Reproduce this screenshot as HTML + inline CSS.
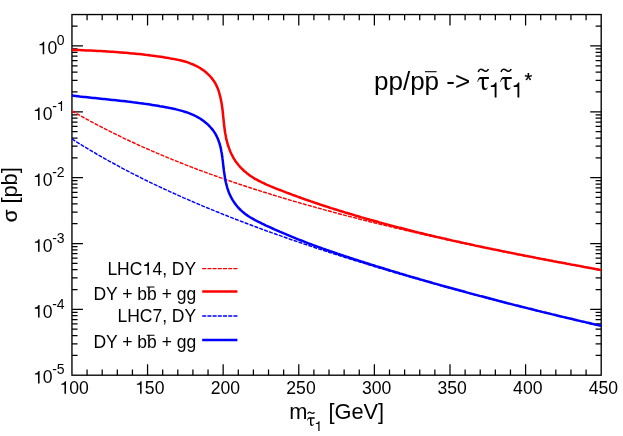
<!DOCTYPE html>
<html><head><meta charset="utf-8">
<style>
html,body{margin:0;padding:0;background:#fff;}
svg{display:block;will-change:transform;}
text{font-family:"Liberation Sans",sans-serif;fill:#000;}
.t{font-size:17.6px;}
.s{font-size:14px;}
.l{font-size:17.5px;}
.a{font-size:21.8px;}
.ti{font-size:26px;}
.ser{font-family:"Liberation Serif",serif;}
</style></head><body>
<svg width="623" height="436" viewBox="0 0 623 436">
<rect width="623" height="436" fill="#fff"/>
<defs><clipPath id="cp"><rect x="71.95" y="14.55" width="529.85" height="360.65"/></clipPath></defs>
<!-- frame -->
<rect x="71.95" y="14.55" width="529.25" height="360.65" fill="none" stroke="#000" stroke-width="1.35"/>
<path d="M87.07,375.2 v-5.6 M87.07,14.55 v5.6 M102.19,375.2 v-5.6 M102.19,14.55 v5.6 M117.31,375.2 v-5.6 M117.31,14.55 v5.6 M132.44,375.2 v-5.6 M132.44,14.55 v5.6 M147.56,375.2 v-11.0 M147.56,14.55 v11.0 M162.68,375.2 v-5.6 M162.68,14.55 v5.6 M177.80,375.2 v-5.6 M177.80,14.55 v5.6 M192.92,375.2 v-5.6 M192.92,14.55 v5.6 M208.04,375.2 v-5.6 M208.04,14.55 v5.6 M223.16,375.2 v-11.0 M223.16,14.55 v11.0 M238.29,375.2 v-5.6 M238.29,14.55 v5.6 M253.41,375.2 v-5.6 M253.41,14.55 v5.6 M268.53,375.2 v-5.6 M268.53,14.55 v5.6 M283.65,375.2 v-5.6 M283.65,14.55 v5.6 M298.77,375.2 v-11.0 M298.77,14.55 v11.0 M313.89,375.2 v-5.6 M313.89,14.55 v5.6 M329.01,375.2 v-5.6 M329.01,14.55 v5.6 M344.14,375.2 v-5.6 M344.14,14.55 v5.6 M359.26,375.2 v-5.6 M359.26,14.55 v5.6 M374.38,375.2 v-11.0 M374.38,14.55 v11.0 M389.50,375.2 v-5.6 M389.50,14.55 v5.6 M404.62,375.2 v-5.6 M404.62,14.55 v5.6 M419.74,375.2 v-5.6 M419.74,14.55 v5.6 M434.86,375.2 v-5.6 M434.86,14.55 v5.6 M449.99,375.2 v-11.0 M449.99,14.55 v11.0 M465.11,375.2 v-5.6 M465.11,14.55 v5.6 M480.23,375.2 v-5.6 M480.23,14.55 v5.6 M495.35,375.2 v-5.6 M495.35,14.55 v5.6 M510.47,375.2 v-5.6 M510.47,14.55 v5.6 M525.59,375.2 v-11.0 M525.59,14.55 v11.0 M540.71,375.2 v-5.6 M540.71,14.55 v5.6 M555.84,375.2 v-5.6 M555.84,14.55 v5.6 M570.96,375.2 v-5.6 M570.96,14.55 v5.6 M586.08,375.2 v-5.6 M586.08,14.55 v5.6 M71.95,355.38 h5.6 M601.2,355.38 h-5.6 M71.95,343.78 h5.6 M601.2,343.78 h-5.6 M71.95,335.56 h5.6 M601.2,335.56 h-5.6 M71.95,329.18 h5.6 M601.2,329.18 h-5.6 M71.95,323.96 h5.6 M601.2,323.96 h-5.6 M71.95,319.55 h5.6 M601.2,319.55 h-5.6 M71.95,315.73 h5.6 M601.2,315.73 h-5.6 M71.95,312.37 h5.6 M601.2,312.37 h-5.6 M71.95,309.35 h11.0 M601.2,309.35 h-11.0 M71.95,289.53 h5.6 M601.2,289.53 h-5.6 M71.95,277.94 h5.6 M601.2,277.94 h-5.6 M71.95,269.71 h5.6 M601.2,269.71 h-5.6 M71.95,263.33 h5.6 M601.2,263.33 h-5.6 M71.95,258.11 h5.6 M601.2,258.11 h-5.6 M71.95,253.71 h5.6 M601.2,253.71 h-5.6 M71.95,249.89 h5.6 M601.2,249.89 h-5.6 M71.95,246.52 h5.6 M601.2,246.52 h-5.6 M71.95,243.51 h11.0 M601.2,243.51 h-11.0 M71.95,223.68 h5.6 M601.2,223.68 h-5.6 M71.95,212.09 h5.6 M601.2,212.09 h-5.6 M71.95,203.86 h5.6 M601.2,203.86 h-5.6 M71.95,197.48 h5.6 M601.2,197.48 h-5.6 M71.95,192.27 h5.6 M601.2,192.27 h-5.6 M71.95,187.86 h5.6 M601.2,187.86 h-5.6 M71.95,184.04 h5.6 M601.2,184.04 h-5.6 M71.95,180.67 h5.6 M601.2,180.67 h-5.6 M71.95,177.66 h11.0 M601.2,177.66 h-11.0 M71.95,157.84 h5.6 M601.2,157.84 h-5.6 M71.95,146.24 h5.6 M601.2,146.24 h-5.6 M71.95,138.02 h5.6 M601.2,138.02 h-5.6 M71.95,131.64 h5.6 M601.2,131.64 h-5.6 M71.95,126.42 h5.6 M601.2,126.42 h-5.6 M71.95,122.01 h5.6 M601.2,122.01 h-5.6 M71.95,118.19 h5.6 M601.2,118.19 h-5.6 M71.95,114.83 h5.6 M601.2,114.83 h-5.6 M71.95,111.81 h11.0 M601.2,111.81 h-11.0 M71.95,91.99 h5.6 M601.2,91.99 h-5.6 M71.95,80.40 h5.6 M601.2,80.40 h-5.6 M71.95,72.17 h5.6 M601.2,72.17 h-5.6 M71.95,65.79 h5.6 M601.2,65.79 h-5.6 M71.95,60.57 h5.6 M601.2,60.57 h-5.6 M71.95,56.17 h5.6 M601.2,56.17 h-5.6 M71.95,52.35 h5.6 M601.2,52.35 h-5.6 M71.95,48.98 h5.6 M601.2,48.98 h-5.6 M71.95,45.97 h11.0 M601.2,45.97 h-11.0 M71.95,26.15 h5.6 M601.2,26.15 h-5.6" stroke="#000" stroke-width="1.25" fill="none"/>
<!-- curves -->
<g fill="none" stroke-linejoin="round" clip-path="url(#cp)">
<path d="M71.9,111.0 L74.6,112.5 L77.2,114.0 L79.9,115.4 L82.5,116.9 L85.2,118.4 L87.9,119.8 L90.5,121.3 L93.2,122.7 L95.8,124.1 L98.5,125.5 L101.2,126.9 L103.8,128.2 L106.5,129.6 L109.1,130.9 L111.8,132.3 L114.5,133.6 L117.1,134.9 L119.8,136.2 L122.4,137.5 L125.1,138.8 L127.8,140.0 L130.4,141.3 L133.1,142.5 L135.7,143.7 L138.4,145.0 L141.1,146.2 L143.7,147.4 L146.4,148.5 L149.0,149.7 L151.7,150.9 L154.4,152.0 L157.0,153.2 L159.7,154.3 L162.4,155.4 L165.0,156.5 L167.7,157.6 L170.3,158.7 L173.0,159.8 L175.7,160.9 L178.3,161.9 L181.0,163.0 L183.6,164.0 L186.3,165.1 L189.0,166.1 L191.6,167.1 L194.3,168.2 L196.9,169.2 L199.6,170.2 L202.3,171.1 L204.9,172.1 L207.6,173.1 L210.2,174.1 L212.9,175.0 L215.6,176.0 L218.2,176.9 L220.9,177.9 L223.5,178.8 L226.2,179.7 L228.9,180.6 L231.5,181.5 L234.2,182.5 L236.8,183.3 L239.5,184.2 L242.2,185.1 L244.8,186.0 L247.5,186.9 L250.1,187.7 L252.8,188.6 L255.5,189.5 L258.1,190.3 L260.8,191.1 L263.4,192.0 L266.1,192.8 L268.8,193.6 L271.4,194.5 L274.1,195.3 L276.7,196.1 L279.4,196.9 L282.1,197.7 L284.7,198.5 L287.4,199.3 L290.0,200.1 L292.7,200.9 L295.4,201.6 L298.0,202.4 L300.7,203.2 L303.3,203.9 L306.0,204.7 L308.7,205.4 L311.3,206.2 L314.0,206.9 L316.6,207.7 L319.3,208.4 L322.0,209.1 L324.6,209.9 L327.3,210.6 L329.9,211.3 L332.6,212.0 L335.3,212.7 L337.9,213.5 L340.6,214.2 L343.3,214.9 L345.9,215.6 L348.6,216.3 L351.2,216.9 L353.9,217.6 L356.6,218.3 L359.2,219.0 L361.9,219.7 L364.5,220.3 L367.2,221.0 L369.9,221.7 L372.5,222.3 L375.2,223.0 L377.8,223.7 L380.5,224.3 L383.2,225.0 L385.8,225.6 L388.5,226.2 L391.1,226.9 L393.8,227.5 L396.5,228.2 L399.1,228.8 L401.8,229.4 L404.4,230.0 L407.1,230.7 L409.8,231.3 L412.4,231.9 L415.1,232.5 L417.7,233.1 L420.4,233.7 L423.1,234.4 L425.7,235.0 L428.4,235.6 L431.0,236.2 L433.7,236.8 L436.4,237.3 L439.0,237.9 L441.7,238.5 L444.3,239.1 L447.0,239.7 L449.7,240.3 L452.3,240.9 L455.0,241.4 L457.6,242.0 L460.3,242.6 L463.0,243.2 L465.6,243.7 L468.3,244.3 L470.9,244.9 L473.6,245.4 L476.3,246.0 L478.9,246.5 L481.6,247.1 L484.2,247.6 L486.9,248.2 L489.6,248.7 L492.2,249.3 L494.9,249.8 L497.5,250.4 L500.2,250.9 L502.9,251.5 L505.5,252.0 L508.2,252.5 L510.8,253.1 L513.5,253.6 L516.2,254.1 L518.8,254.7 L521.5,255.2 L524.2,255.7 L526.8,256.2 L529.5,256.8 L532.1,257.3 L534.8,257.8 L537.5,258.3 L540.1,258.8 L542.8,259.3 L545.4,259.9 L548.1,260.4 L550.8,260.9 L553.4,261.4 L556.1,261.9 L558.7,262.4 L561.4,262.9 L564.1,263.4 L566.7,263.9 L569.4,264.4 L572.0,264.9 L574.7,265.4 L577.4,265.9 L580.0,266.4 L582.7,266.8 L585.3,267.3 L588.0,267.8 L590.7,268.3 L593.3,268.8 L596.0,269.3 L598.6,269.8 L601.3,270.2" stroke="#f00" stroke-width="1.45" stroke-dasharray="4 1.2"/>
<path d="M71.9,138.9 L74.6,140.6 L77.2,142.3 L79.9,143.9 L82.5,145.6 L85.2,147.2 L87.9,148.8 L90.5,150.4 L93.2,152.0 L95.8,153.5 L98.5,155.1 L101.2,156.6 L103.8,158.1 L106.5,159.6 L109.1,161.1 L111.8,162.5 L114.5,164.0 L117.1,165.4 L119.8,166.9 L122.4,168.3 L125.1,169.7 L127.8,171.1 L130.4,172.5 L133.1,173.8 L135.7,175.2 L138.4,176.5 L141.1,177.9 L143.7,179.2 L146.4,180.5 L149.0,181.8 L151.7,183.1 L154.4,184.3 L157.0,185.6 L159.7,186.9 L162.4,188.1 L165.0,189.4 L167.7,190.6 L170.3,191.8 L173.0,193.0 L175.7,194.2 L178.3,195.4 L181.0,196.6 L183.6,197.8 L186.3,198.9 L189.0,200.1 L191.6,201.2 L194.3,202.4 L196.9,203.5 L199.6,204.6 L202.3,205.8 L204.9,206.9 L207.6,208.0 L210.2,209.1 L212.9,210.2 L215.6,211.3 L218.2,212.3 L220.9,213.4 L223.5,214.5 L226.2,215.5 L228.9,216.6 L231.5,217.6 L234.2,218.7 L236.8,219.7 L239.5,220.7 L242.2,221.7 L244.8,222.8 L247.5,223.8 L250.1,224.8 L252.8,225.8 L255.5,226.8 L258.1,227.7 L260.8,228.7 L263.4,229.7 L266.1,230.7 L268.8,231.6 L271.4,232.6 L274.1,233.5 L276.7,234.5 L279.4,235.4 L282.1,236.4 L284.7,237.3 L287.4,238.2 L290.0,239.2 L292.7,240.1 L295.4,241.0 L298.0,241.9 L300.7,242.8 L303.3,243.7 L306.0,244.6 L308.7,245.5 L311.3,246.4 L314.0,247.3 L316.6,248.2 L319.3,249.1 L322.0,249.9 L324.6,250.8 L327.3,251.7 L329.9,252.5 L332.6,253.4 L335.3,254.3 L337.9,255.1 L340.6,256.0 L343.3,256.8 L345.9,257.7 L348.6,258.5 L351.2,259.3 L353.9,260.2 L356.6,261.0 L359.2,261.8 L361.9,262.6 L364.5,263.4 L367.2,264.3 L369.9,265.1 L372.5,265.9 L375.2,266.7 L377.8,267.5 L380.5,268.3 L383.2,269.1 L385.8,269.9 L388.5,270.7 L391.1,271.4 L393.8,272.2 L396.5,273.0 L399.1,273.8 L401.8,274.6 L404.4,275.3 L407.1,276.1 L409.8,276.9 L412.4,277.6 L415.1,278.4 L417.7,279.1 L420.4,279.9 L423.1,280.6 L425.7,281.4 L428.4,282.1 L431.0,282.9 L433.7,283.6 L436.4,284.4 L439.0,285.1 L441.7,285.8 L444.3,286.6 L447.0,287.3 L449.7,288.0 L452.3,288.8 L455.0,289.5 L457.6,290.2 L460.3,290.9 L463.0,291.6 L465.6,292.3 L468.3,293.1 L470.9,293.8 L473.6,294.5 L476.3,295.2 L478.9,295.9 L481.6,296.6 L484.2,297.3 L486.9,298.0 L489.6,298.7 L492.2,299.4 L494.9,300.1 L497.5,300.7 L500.2,301.4 L502.9,302.1 L505.5,302.8 L508.2,303.5 L510.8,304.2 L513.5,304.8 L516.2,305.5 L518.8,306.2 L521.5,306.8 L524.2,307.5 L526.8,308.2 L529.5,308.8 L532.1,309.5 L534.8,310.2 L537.5,310.8 L540.1,311.5 L542.8,312.1 L545.4,312.8 L548.1,313.4 L550.8,314.1 L553.4,314.7 L556.1,315.4 L558.7,316.0 L561.4,316.7 L564.1,317.3 L566.7,318.0 L569.4,318.6 L572.0,319.2 L574.7,319.9 L577.4,320.5 L580.0,321.1 L582.7,321.8 L585.3,322.4 L588.0,323.0 L590.7,323.7 L593.3,324.3 L596.0,324.9 L598.6,325.5 L601.3,326.1" stroke="#00f" stroke-width="1.45" stroke-dasharray="4 1.2"/>
<path d="M71.9,49.8 L73.9,49.9 L75.8,50.0 L77.8,50.0 L79.8,50.1 L81.7,50.2 L83.7,50.3 L85.6,50.4 L87.6,50.4 L89.5,50.5 L91.4,50.6 L93.4,50.7 L95.3,50.8 L97.3,50.9 L99.2,51.0 L101.1,51.1 L103.0,51.2 L105.0,51.3 L106.9,51.4 L108.8,51.6 L110.7,51.7 L112.7,51.8 L114.6,51.9 L116.5,52.1 L118.4,52.2 L120.3,52.4 L122.2,52.5 L124.1,52.7 L126.1,52.8 L128.0,53.0 L129.9,53.2 L131.8,53.4 L133.7,53.5 L135.6,53.7 L137.6,53.9 L139.5,54.1 L141.4,54.3 L143.3,54.5 L145.2,54.8 L147.2,55.0 L149.1,55.2 L151.0,55.5 L152.9,55.7 L154.9,56.0 L156.8,56.3 L158.7,56.5 L160.7,56.8 L162.6,57.1 L164.6,57.4 L166.5,57.7 L168.5,58.0 L170.4,58.4 L172.4,58.7 L174.3,59.1 L176.3,59.5 L178.2,59.9 L180.1,60.3 L182.0,60.8 L183.9,61.3 L185.8,61.8 L187.7,62.4 L189.5,63.1 L191.3,63.8 L193.1,64.5 L194.9,65.3 L196.6,66.1 L198.3,67.0 L200.0,68.0 L201.6,69.1 L203.2,70.1 L204.7,71.3 L206.2,72.5 L207.6,73.8 L209.0,75.1 L210.3,76.5 L211.5,77.9 L212.7,79.4 L213.8,80.9 L214.8,82.5 L215.8,84.2 L216.6,85.9 L217.4,87.6 L218.1,89.4 L218.7,91.2 L219.3,93.1 L219.8,95.0 L220.3,96.9 L220.7,98.8 L221.1,100.7 L221.5,102.6 L221.8,104.6 L222.1,106.5 L222.3,108.5 L222.6,110.4 L222.8,112.4 L223.0,114.3 L223.2,116.3 L223.4,118.2 L223.6,120.2 L223.8,122.1 L224.0,124.0 L224.2,126.0 L224.5,127.9 L224.7,129.8 L225.0,131.8 L225.3,133.7 L225.7,135.6 L226.0,137.5 L226.4,139.4 L226.9,141.3 L227.4,143.1 L227.9,145.0 L228.5,146.8 L229.2,148.6 L229.9,150.4 L230.6,152.2 L231.4,154.0 L232.3,155.7 L233.2,157.4 L234.2,159.1 L235.2,160.7 L236.3,162.3 L237.5,163.8 L238.7,165.3 L240.0,166.8 L241.3,168.2 L242.7,169.5 L244.1,170.9 L245.6,172.1 L247.1,173.4 L248.6,174.5 L250.2,175.7 L251.8,176.7 L253.4,177.8 L255.1,178.8 L256.7,179.7 L258.4,180.7 L260.2,181.5 L261.9,182.4 L263.7,183.2 L265.4,184.1 L267.2,184.9 L269.0,185.6 L270.8,186.4 L272.6,187.1 L274.4,187.9 L276.2,188.6 L278.1,189.3 L279.9,190.0 L281.7,190.7 L283.5,191.4 L285.3,192.1 L287.1,192.8 L289.0,193.5 L290.8,194.2 L292.6,194.9 L294.4,195.5 L296.2,196.2 L298.1,196.9 L299.9,197.5 L301.7,198.2 L303.6,198.8 L305.4,199.5 L307.2,200.1 L309.0,200.7 L310.9,201.4 L312.7,202.0 L314.6,202.6 L316.4,203.2 L318.2,203.8 L320.1,204.5 L321.9,205.1 L323.7,205.7 L325.6,206.3 L327.4,206.9 L329.3,207.5 L331.1,208.1 L333.0,208.6 L334.8,209.2 L336.7,209.8 L338.5,210.4 L340.4,211.0 L342.2,211.5 L344.1,212.1 L345.9,212.7 L347.8,213.2 L349.6,213.8 L351.5,214.3 L353.3,214.9 L355.2,215.5 L357.1,216.0 L358.9,216.5 L360.8,217.1 L362.6,217.6 L364.5,218.2 L366.4,218.7 L368.2,219.2 L370.1,219.8 L371.9,220.3 L373.8,220.8 L375.7,221.3 L377.6,221.8 L379.4,222.4 L381.3,222.9 L383.2,223.4 L385.0,223.9 L386.9,224.4 L388.8,224.9 L390.6,225.4 L392.5,225.9 L394.4,226.4 L396.3,226.9 L398.2,227.4 L400.0,227.8 L401.9,228.3 L403.8,228.8 L405.7,229.3 L407.5,229.8 L409.4,230.2 L411.3,230.7 L413.2,231.2 L415.1,231.7 L417.0,232.1 L418.8,232.6 L420.7,233.0 L422.6,233.5 L424.5,234.0 L426.4,234.4 L428.3,234.9 L430.2,235.3 L432.0,235.8 L433.9,236.2 L435.8,236.7 L437.7,237.1 L439.6,237.5 L441.5,238.0 L443.4,238.4 L445.3,238.8 L447.2,239.3 L449.1,239.7 L450.9,240.1 L452.8,240.6 L454.7,241.0 L456.6,241.4 L458.5,241.8 L460.4,242.3 L462.3,242.7 L464.2,243.1 L466.1,243.5 L468.0,243.9 L469.9,244.3 L471.8,244.7 L473.7,245.1 L475.6,245.6 L477.5,246.0 L479.4,246.4 L481.3,246.8 L483.2,247.2 L485.1,247.6 L487.0,248.0 L488.9,248.4 L490.8,248.8 L492.7,249.2 L494.6,249.5 L496.5,249.9 L498.4,250.3 L500.3,250.7 L502.2,251.1 L504.1,251.5 L506.0,251.9 L507.9,252.3 L509.8,252.6 L511.7,253.0 L513.6,253.4 L515.5,253.8 L517.4,254.2 L519.3,254.5 L521.2,254.9 L523.2,255.3 L525.1,255.7 L527.0,256.0 L528.9,256.4 L530.8,256.8 L532.7,257.1 L534.6,257.5 L536.5,257.9 L538.4,258.2 L540.3,258.6 L542.2,259.0 L544.1,259.3 L546.0,259.7 L547.9,260.1 L549.8,260.4 L551.7,260.8 L553.6,261.2 L555.5,261.5 L557.5,261.9 L559.4,262.2 L561.3,262.6 L563.2,262.9 L565.1,263.3 L567.0,263.7 L568.9,264.0 L570.8,264.4 L572.7,264.7 L574.6,265.1 L576.5,265.4 L578.4,265.8 L580.3,266.1 L582.2,266.5 L584.1,266.9 L586.0,267.2 L587.9,267.6 L589.8,267.9 L591.7,268.3 L593.7,268.6 L595.6,269.0 L597.5,269.3 L599.4,269.7 L601.3,270.0" stroke="#f00" stroke-width="2.5"/>
<path d="M71.9,95.6 L73.8,95.8 L75.8,96.0 L77.7,96.2 L79.7,96.5 L81.6,96.7 L83.5,96.9 L85.5,97.1 L87.4,97.3 L89.3,97.5 L91.2,97.7 L93.1,97.9 L95.1,98.1 L97.0,98.3 L98.9,98.5 L100.8,98.7 L102.7,98.9 L104.6,99.1 L106.5,99.3 L108.4,99.5 L110.3,99.7 L112.2,99.9 L114.1,100.1 L116.0,100.3 L117.9,100.5 L119.8,100.7 L121.7,100.9 L123.6,101.1 L125.5,101.3 L127.4,101.6 L129.3,101.8 L131.2,102.0 L133.1,102.3 L135.0,102.5 L136.9,102.7 L138.8,103.0 L140.7,103.2 L142.6,103.5 L144.5,103.8 L146.4,104.0 L148.3,104.3 L150.2,104.6 L152.1,104.9 L154.0,105.2 L155.9,105.5 L157.9,105.8 L159.8,106.2 L161.7,106.5 L163.6,106.8 L165.5,107.2 L167.5,107.6 L169.4,107.9 L171.3,108.3 L173.2,108.7 L175.2,109.1 L177.1,109.6 L179.0,110.1 L180.9,110.6 L182.8,111.1 L184.6,111.7 L186.5,112.3 L188.3,112.9 L190.1,113.6 L191.9,114.3 L193.7,115.1 L195.4,116.0 L197.1,116.9 L198.8,117.8 L200.4,118.8 L202.0,119.9 L203.6,121.0 L205.1,122.2 L206.6,123.4 L208.0,124.7 L209.4,126.1 L210.7,127.5 L211.9,128.9 L213.1,130.4 L214.1,131.9 L215.2,133.5 L216.1,135.1 L216.9,136.8 L217.7,138.5 L218.4,140.2 L219.0,142.0 L219.6,143.7 L220.1,145.6 L220.6,147.4 L221.0,149.3 L221.3,151.2 L221.7,153.1 L222.0,155.0 L222.3,157.0 L222.5,158.9 L222.8,160.9 L223.0,162.8 L223.2,164.8 L223.4,166.8 L223.7,168.7 L223.9,170.7 L224.2,172.6 L224.5,174.6 L224.8,176.5 L225.1,178.4 L225.4,180.3 L225.8,182.2 L226.3,184.1 L226.8,186.0 L227.3,187.8 L227.9,189.7 L228.5,191.5 L229.2,193.2 L230.0,195.0 L230.8,196.7 L231.7,198.4 L232.7,200.1 L233.7,201.7 L234.8,203.2 L235.9,204.8 L237.1,206.2 L238.3,207.7 L239.6,209.0 L241.0,210.4 L242.4,211.6 L243.8,212.8 L245.3,214.0 L246.9,215.1 L248.5,216.2 L250.1,217.2 L251.7,218.2 L253.4,219.1 L255.1,220.1 L256.8,221.0 L258.5,221.9 L260.3,222.7 L262.0,223.6 L263.8,224.4 L265.5,225.3 L267.3,226.1 L269.1,226.9 L270.8,227.7 L272.6,228.5 L274.4,229.3 L276.2,230.1 L277.9,230.9 L279.7,231.7 L281.5,232.4 L283.3,233.2 L285.1,233.9 L286.8,234.7 L288.6,235.4 L290.4,236.2 L292.2,236.9 L294.0,237.6 L295.8,238.4 L297.6,239.1 L299.4,239.8 L301.2,240.5 L303.0,241.2 L304.8,241.9 L306.6,242.6 L308.4,243.3 L310.2,244.0 L312.0,244.6 L313.8,245.3 L315.6,246.0 L317.4,246.6 L319.2,247.3 L321.1,247.9 L322.9,248.6 L324.7,249.2 L326.5,249.9 L328.3,250.5 L330.1,251.2 L332.0,251.8 L333.8,252.4 L335.6,253.0 L337.4,253.7 L339.2,254.3 L341.1,254.9 L342.9,255.5 L344.7,256.1 L346.5,256.7 L348.4,257.3 L350.2,257.9 L352.0,258.5 L353.9,259.1 L355.7,259.7 L357.5,260.3 L359.4,260.9 L361.2,261.5 L363.0,262.0 L364.9,262.6 L366.7,263.2 L368.5,263.8 L370.4,264.4 L372.2,264.9 L374.0,265.5 L375.9,266.1 L377.7,266.6 L379.6,267.2 L381.4,267.8 L383.2,268.3 L385.1,268.9 L386.9,269.5 L388.8,270.0 L390.6,270.6 L392.5,271.1 L394.3,271.7 L396.1,272.3 L398.0,272.8 L399.8,273.4 L401.7,273.9 L403.5,274.5 L405.4,275.0 L407.2,275.6 L409.1,276.1 L410.9,276.7 L412.8,277.2 L414.6,277.7 L416.5,278.3 L418.3,278.8 L420.2,279.4 L422.0,279.9 L423.9,280.4 L425.7,281.0 L427.6,281.5 L429.4,282.0 L431.3,282.5 L433.1,283.1 L435.0,283.6 L436.9,284.1 L438.7,284.6 L440.6,285.2 L442.4,285.7 L444.3,286.2 L446.1,286.7 L448.0,287.2 L449.9,287.8 L451.7,288.3 L453.6,288.8 L455.4,289.3 L457.3,289.8 L459.1,290.3 L461.0,290.8 L462.9,291.3 L464.7,291.8 L466.6,292.4 L468.5,292.9 L470.3,293.4 L472.2,293.9 L474.0,294.4 L475.9,294.9 L477.8,295.4 L479.6,295.9 L481.5,296.3 L483.4,296.8 L485.2,297.3 L487.1,297.8 L489.0,298.3 L490.8,298.8 L492.7,299.3 L494.6,299.8 L496.4,300.3 L498.3,300.8 L500.2,301.2 L502.0,301.7 L503.9,302.2 L505.8,302.7 L507.6,303.2 L509.5,303.6 L511.4,304.1 L513.2,304.6 L515.1,305.1 L517.0,305.5 L518.8,306.0 L520.7,306.5 L522.6,307.0 L524.4,307.4 L526.3,307.9 L528.2,308.4 L530.1,308.8 L531.9,309.3 L533.8,309.8 L535.7,310.2 L537.5,310.7 L539.4,311.1 L541.3,311.6 L543.2,312.1 L545.0,312.5 L546.9,313.0 L548.8,313.4 L550.7,313.9 L552.5,314.4 L554.4,314.8 L556.3,315.3 L558.1,315.7 L560.0,316.2 L561.9,316.6 L563.8,317.1 L565.6,317.5 L567.5,318.0 L569.4,318.4 L571.3,318.8 L573.1,319.3 L575.0,319.7 L576.9,320.2 L578.8,320.6 L580.6,321.1 L582.5,321.5 L584.4,321.9 L586.3,322.4 L588.1,322.8 L590.0,323.2 L591.9,323.7 L593.8,324.1 L595.6,324.6 L597.5,325.0 L599.4,325.4 L601.3,325.8" stroke="#00f" stroke-width="2.5"/>
</g>
<path transform="translate(33.03,383.4) scale(17.6,-17.6)" d="M0.372,0 L0.284,0 L0.284,0.505 L0.101,0.505 L0.101,0.568 C0.210,0.572 0.285,0.610 0.312,0.709 L0.372,0.709 Z" fill="#000"/><text x="42.81" y="383.4" class="t">0</text><text x="52.2" y="374.4" class="s">-5</text>
<path transform="translate(33.03,317.6) scale(17.6,-17.6)" d="M0.372,0 L0.284,0 L0.284,0.505 L0.101,0.505 L0.101,0.568 C0.210,0.572 0.285,0.610 0.312,0.709 L0.372,0.709 Z" fill="#000"/><text x="42.81" y="317.6" class="t">0</text><text x="52.2" y="308.6" class="s">-4</text>
<path transform="translate(33.03,251.7) scale(17.6,-17.6)" d="M0.372,0 L0.284,0 L0.284,0.505 L0.101,0.505 L0.101,0.568 C0.210,0.572 0.285,0.610 0.312,0.709 L0.372,0.709 Z" fill="#000"/><text x="42.81" y="251.7" class="t">0</text><text x="52.2" y="242.7" class="s">-3</text>
<path transform="translate(33.03,185.9) scale(17.6,-17.6)" d="M0.372,0 L0.284,0 L0.284,0.505 L0.101,0.505 L0.101,0.568 C0.210,0.572 0.285,0.610 0.312,0.709 L0.372,0.709 Z" fill="#000"/><text x="42.81" y="185.9" class="t">0</text><text x="52.2" y="176.9" class="s">-2</text>
<path transform="translate(33.03,120.0) scale(17.6,-17.6)" d="M0.372,0 L0.284,0 L0.284,0.505 L0.101,0.505 L0.101,0.568 C0.210,0.572 0.285,0.610 0.312,0.709 L0.372,0.709 Z" fill="#000"/><text x="42.81" y="120.0" class="t">0</text><text x="52.2" y="111.0" class="s">-</text><path transform="translate(56.862,111.0) scale(14.0,-14.0)" d="M0.372,0 L0.284,0 L0.284,0.505 L0.101,0.505 L0.101,0.568 C0.210,0.572 0.285,0.610 0.312,0.709 L0.372,0.709 Z" fill="#000"/>
<path transform="translate(37.69,54.2) scale(17.6,-17.6)" d="M0.372,0 L0.284,0 L0.284,0.505 L0.101,0.505 L0.101,0.568 C0.210,0.572 0.285,0.610 0.312,0.709 L0.372,0.709 Z" fill="#000"/><text x="47.48" y="54.2" class="t">0</text><text x="56.86" y="45.2" class="s">0</text>

<path transform="translate(59.47,393.7) scale(17.6,-17.6)" d="M0.372,0 L0.284,0 L0.284,0.505 L0.101,0.505 L0.101,0.568 C0.210,0.572 0.285,0.610 0.312,0.709 L0.372,0.709 Z" fill="#000"/><text x="69.26" y="393.7" class="t">00</text>
<path transform="translate(135.08,393.7) scale(17.6,-17.6)" d="M0.372,0 L0.284,0 L0.284,0.505 L0.101,0.505 L0.101,0.568 C0.210,0.572 0.285,0.610 0.312,0.709 L0.372,0.709 Z" fill="#000"/><text x="144.86" y="393.7" class="t">50</text>
<text x="225.4" y="393.7" text-anchor="middle" class="t">200</text>
<text x="301.0" y="393.7" text-anchor="middle" class="t">250</text>
<text x="376.6" y="393.7" text-anchor="middle" class="t">300</text>
<text x="452.2" y="393.7" text-anchor="middle" class="t">350</text>
<text x="527.8" y="393.7" text-anchor="middle" class="t">400</text>
<text x="603.4" y="393.7" text-anchor="middle" class="t">450</text>

<!-- legend -->
<text x="142.40" y="274.8" text-anchor="end" class="l">LHC</text><path transform="translate(142.4,274.8) scale(17.6,-17.6)" d="M0.372,0 L0.284,0 L0.284,0.505 L0.101,0.505 L0.101,0.568 C0.210,0.572 0.285,0.610 0.312,0.709 L0.372,0.709 Z" fill="#000"/><text x="196.2" y="274.8" text-anchor="end" class="l">4, DY</text>
<text x="196.2" y="299.5" text-anchor="end" class="l">DY + bb + gg</text>
<text x="196.2" y="321.8" text-anchor="end" class="l">LHC7, DY</text>
<text x="196.2" y="348.0" text-anchor="end" class="l">DY + bb + gg</text>
<path d="M146.7,287.05 h7.8 M146.7,335.3 h7.8" stroke="#000" stroke-width="1.1"/>
<path d="M202.2,268.6 H237.4" stroke="#f00" stroke-width="1.45" stroke-dasharray="4 1.2"/>
<path d="M202.2,291.6 H237.4" stroke="#f00" stroke-width="2.5"/>
<path d="M202.2,316.0 H237.4" stroke="#00f" stroke-width="1.45" stroke-dasharray="4 1.2"/>
<path d="M202.2,339.9 H237.4" stroke="#00f" stroke-width="2.5"/>
<!-- title -->
<text x="374" y="90.1" class="ti">pp/pp -&gt;</text>
<path d="M425,71.7 h11.6" stroke="#000" stroke-width="1.1"/>
<g transform="translate(477.4,89.9) scale(1.0)"><path d="M0,-8 C0.4,-11 1.6,-13 3.2,-13 L11.5,-13 L11.5,-10.8 L6.6,-10.8 L6.6,-4.4 C6.6,-2.1 7.8,-1.6 8.6,-1.6 C9.4,-1.6 9.9,-2.1 10.2,-2.7 L10.6,-2.3 C9.8,-0.6 8.6,0.2 7.2,0.2 C5.2,0.2 4.4,-1.3 4.4,-3.9 L4.4,-10.8 L3.2,-10.8 C1.8,-10.8 1,-9.6 0.6,-7.8 Z" fill="#000"/><path d="M0.9,-17.9 C1.6,-20.9 3.8,-21.3 5.8,-19.7 C7.8,-18.1 10,-18.3 11,-21" fill="none" stroke="#000" stroke-width="1.55" stroke-linecap="butt"/></g>
<path transform="translate(488.7,97.5) scale(21,-21)" d="M0.372,0 L0.284,0 L0.284,0.505 L0.101,0.505 L0.101,0.568 C0.210,0.572 0.285,0.610 0.312,0.709 L0.372,0.709 Z" fill="#000"/>
<g transform="translate(500.2,89.9) scale(1.0)"><path d="M0,-8 C0.4,-11 1.6,-13 3.2,-13 L11.5,-13 L11.5,-10.8 L6.6,-10.8 L6.6,-4.4 C6.6,-2.1 7.8,-1.6 8.6,-1.6 C9.4,-1.6 9.9,-2.1 10.2,-2.7 L10.6,-2.3 C9.8,-0.6 8.6,0.2 7.2,0.2 C5.2,0.2 4.4,-1.3 4.4,-3.9 L4.4,-10.8 L3.2,-10.8 C1.8,-10.8 1,-9.6 0.6,-7.8 Z" fill="#000"/><path d="M0.9,-17.9 C1.6,-20.9 3.8,-21.3 5.8,-19.7 C7.8,-18.1 10,-18.3 11,-21" fill="none" stroke="#000" stroke-width="1.55" stroke-linecap="butt"/></g>
<path transform="translate(511.5,97.5) scale(21,-21)" d="M0.372,0 L0.284,0 L0.284,0.505 L0.101,0.505 L0.101,0.568 C0.210,0.572 0.285,0.610 0.312,0.709 L0.372,0.709 Z" fill="#000"/>
<text x="524.4" y="86.6" style="font-size:20px" stroke="#000" stroke-width="0.25">*</text>
<!-- x label -->
<text x="289.2" y="419.3" class="a">m</text>
<g transform="translate(307.1,425.8) scale(0.66)"><path d="M0,-8 C0.4,-11 1.6,-13 3.2,-13 L11.5,-13 L11.5,-10.8 L6.6,-10.8 L6.6,-4.4 C6.6,-2.1 7.8,-1.6 8.6,-1.6 C9.4,-1.6 9.9,-2.1 10.2,-2.7 L10.6,-2.3 C9.8,-0.6 8.6,0.2 7.2,0.2 C5.2,0.2 4.4,-1.3 4.4,-3.9 L4.4,-10.8 L3.2,-10.8 C1.8,-10.8 1,-9.6 0.6,-7.8 Z" fill="#000"/><path d="M0.9,-17.9 C1.6,-20.9 3.8,-21.3 5.8,-19.7 C7.8,-18.1 10,-18.3 11,-21" fill="none" stroke="#000" stroke-width="1.85" stroke-linecap="butt"/></g>
<path transform="translate(314.4,431.0) scale(13.8,-13.8)" d="M0.372,0 L0.284,0 L0.284,0.505 L0.101,0.505 L0.101,0.568 C0.210,0.572 0.285,0.610 0.312,0.709 L0.372,0.709 Z" fill="#000"/>
<text x="328.4" y="419.3" class="a">[GeV]</text>
<!-- y label -->
<text transform="translate(16.95,222.2) rotate(-90)" style="font-size:20.8px" stroke="#000" stroke-width="0.2">σ</text>
<text transform="translate(16.9,203.6) rotate(-90)" class="a">[pb]</text>
</svg>
</body></html>
